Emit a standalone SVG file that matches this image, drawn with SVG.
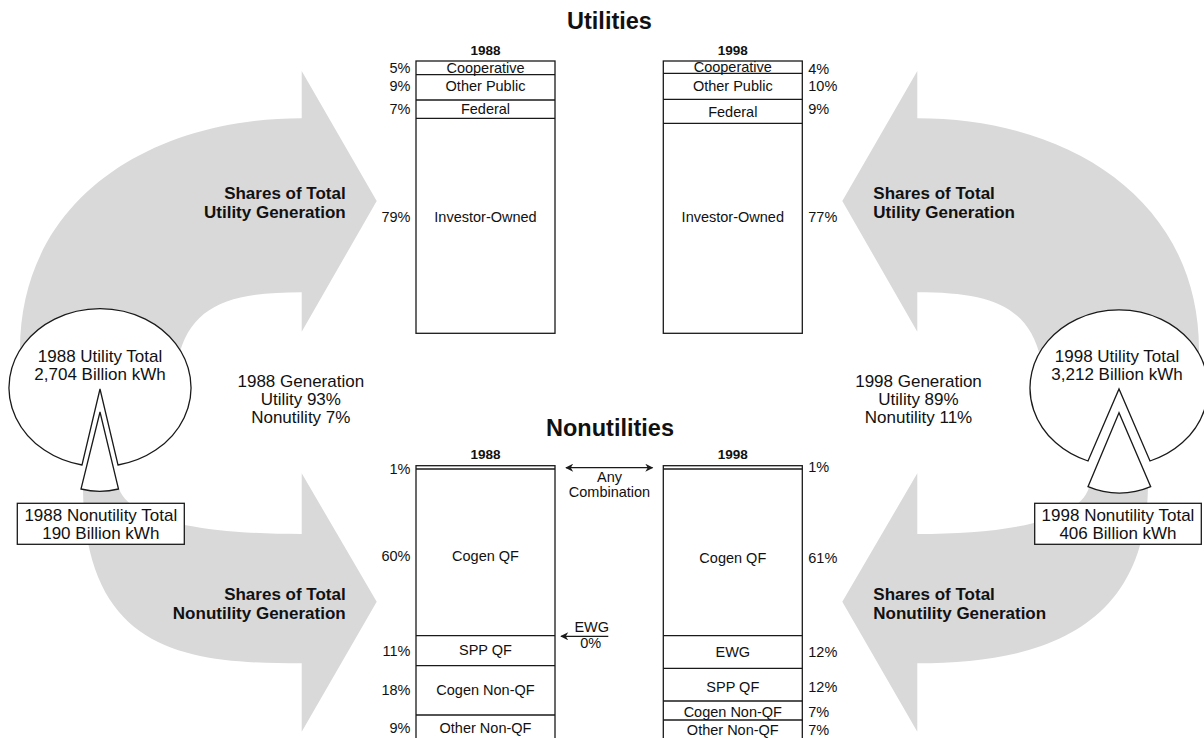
<svg xmlns="http://www.w3.org/2000/svg" width="1204" height="738" viewBox="0 0 1204 738">
<style>
text{font-family:"Liberation Sans",Arial,Helvetica,sans-serif;fill:#111}
.t{font-size:23.5px;font-weight:bold;text-anchor:middle}
.yr{font-size:13.5px;font-weight:bold;text-anchor:middle}
.l{font-size:14.5px;text-anchor:middle}
.pl{font-size:14.5px;text-anchor:end}
.pr{font-size:14.5px;text-anchor:start}
.b{font-size:17px;text-anchor:middle}
.sl{font-size:17px;font-weight:bold;text-anchor:end}
.sr{font-size:17px;font-weight:bold;text-anchor:start}
.bar{fill:#fff;stroke:#1a1a1a;stroke-width:1.3}
.div{stroke:#1a1a1a;stroke-width:1.3}
.flow{fill:#d9d9d9}
.pie{fill:#fff;stroke:#1a1a1a;stroke-width:1.3}
.ar{stroke:#1a1a1a;stroke-width:1.3;fill:none}
</style>
<defs>
<marker id="ah" viewBox="0 0 10 10" refX="9" refY="5" markerWidth="10" markerHeight="8" markerUnits="userSpaceOnUse" orient="auto-start-reverse">
<path d="M0,0 L10,5 L0,10 L3,5 Z" fill="#1a1a1a"/>
</marker>
</defs>
<rect width="1204" height="738" fill="#fff"/>

<g id="connectors">
<path class="flow" d="M20,390 L20,350 C20,200 150,118.3 301.7,118.3 L301.7,71 L376.7,201 L301.7,331.7 L301.7,292.3 C230,292.3 190,305 178,360 L178,390 Z"/>
<path class="flow" d="M83,485 L118,485 C125,520 200,534 301.7,534 L301.7,473.3 L376.7,601.7 L301.7,731.7 L301.7,663.3 C190,663.3 83,655 83,485 Z"/>
<path class="flow" d="M1199,390 L1199,350 C1199,200 1069,118.3 917.3,118.3 L917.3,71 L842.3,201 L917.3,331.7 L917.3,292.3 C989,292.3 1029,305 1041,360 L1041,390 Z"/>
<path class="flow" d="M1090,483 L1148,483 C1148,630 1040,663.3 917.3,663.3 L917.3,731.7 L842.3,601.7 L917.3,473.3 L917.3,534 C1010,534 1085,520 1090,483 Z"/>
<line class="ar" x1="566" y1="467.7" x2="652.5" y2="467.7" marker-start="url(#ah)" marker-end="url(#ah)"/>
<line class="ar" x1="608.3" y1="636.3" x2="561" y2="636.3" marker-end="url(#ah)"/>
</g>

<g id="pie-1988">
<path class="pie" d="M82,465 A91,79 0 1 1 118,465 L100,389 Z"/>
<path class="pie" d="M100,412 L81,489 A79,79 0 0 0 118.5,489 Z"/>
<text class="b" x="100" y="362">1988 Utility Total</text>
<text class="b" x="100" y="380">2,704 Billion kWh</text>
</g>
<g id="box-1988">
<rect x="17.3" y="503.3" width="167" height="41" fill="#fff" stroke="#1a1a1a" stroke-width="1.3"/>
<text class="b" x="100.8" y="521">1988 Nonutility Total</text>
<text class="b" x="100.8" y="539.3">190 Billion kWh</text>
</g>

<g id="pie-1998">
<path class="pie" d="M1088,461 A89,78 0 1 1 1150,461 L1119,389 Z"/>
<path class="pie" d="M1119,412.7 L1088,486.7 A80,80 0 0 0 1150.7,486.7 Z"/>
<text class="b" x="1117" y="362">1998 Utility Total</text>
<text class="b" x="1117" y="380">3,212 Billion kWh</text>
</g>
<g id="box-1998">
<rect x="1034.7" y="503.3" width="166.6" height="41" fill="#fff" stroke="#1a1a1a" stroke-width="1.3"/>
<text class="b" x="1118" y="521">1998 Nonutility Total</text>
<text class="b" x="1118" y="539.3">406 Billion kWh</text>
</g>

<g id="labels-shares">
<text class="sl" x="345.7" y="199.3">Shares of Total</text>
<text class="sl" x="345.7" y="218">Utility Generation</text>
<text class="sl" x="345.7" y="600">Shares of Total</text>
<text class="sl" x="345.7" y="619">Nonutility Generation</text>
<text class="sr" x="873.3" y="199.3">Shares of Total</text>
<text class="sr" x="873.3" y="218">Utility Generation</text>
<text class="sr" x="873.3" y="600">Shares of Total</text>
<text class="sr" x="873.3" y="619">Nonutility Generation</text>
</g>

<g id="gen-1988">
<text class="b" x="300.8" y="386.7">1988 Generation</text>
<text class="b" x="300.8" y="405">Utility 93%</text>
<text class="b" x="300.8" y="423.3">Nonutility 7%</text>
</g>
<g id="gen-1998">
<text class="b" x="918.5" y="386.7">1998 Generation</text>
<text class="b" x="918.5" y="405">Utility 89%</text>
<text class="b" x="918.5" y="423.3">Nonutility 11%</text>
</g>

<g id="titles">
<text class="t" x="609.5" y="29.3">Utilities</text>
<text class="t" x="610" y="436">Nonutilities</text>
</g>

<g id="util-1988">
<text class="yr" x="485.5" y="55">1988</text>
<rect class="bar" x="416" y="61" width="139" height="272.3"/>
<line class="div" x1="416" y1="74.7" x2="555" y2="74.7"/>
<line class="div" x1="416" y1="100" x2="555" y2="100"/>
<line class="div" x1="416" y1="118.3" x2="555" y2="118.3"/>
<text class="l" x="485.5" y="72.5">Cooperative</text>
<text class="l" x="485.5" y="90.5">Other Public</text>
<text class="l" x="485.5" y="114">Federal</text>
<text class="l" x="485.5" y="221.5">Investor-Owned</text>
<text class="pl" x="410.5" y="73">5%</text>
<text class="pl" x="410.5" y="90.5">9%</text>
<text class="pl" x="410.5" y="114">7%</text>
<text class="pl" x="410.5" y="221.5">79%</text>
</g>

<g id="util-1998">
<text class="yr" x="732.8" y="55">1998</text>
<rect class="bar" x="663.3" y="61" width="139" height="272.3"/>
<line class="div" x1="663.3" y1="73.3" x2="802.3" y2="73.3"/>
<line class="div" x1="663.3" y1="99.3" x2="802.3" y2="99.3"/>
<line class="div" x1="663.3" y1="123.3" x2="802.3" y2="123.3"/>
<text class="l" x="732.8" y="71.5">Cooperative</text>
<text class="l" x="732.8" y="90.5">Other Public</text>
<text class="l" x="732.8" y="116.5">Federal</text>
<text class="l" x="732.8" y="221.5">Investor-Owned</text>
<text class="pr" x="808.3" y="73.5">4%</text>
<text class="pr" x="808.3" y="90.7">10%</text>
<text class="pr" x="808.3" y="114">9%</text>
<text class="pr" x="808.3" y="221.5">77%</text>
</g>

<g id="nonutil-1988">
<text class="yr" x="485.5" y="459">1988</text>
<rect class="bar" x="416" y="465.7" width="139" height="285"/>
<line class="div" x1="416" y1="469" x2="555" y2="469"/>
<line class="div" x1="416" y1="635.7" x2="555" y2="635.7"/>
<line class="div" x1="416" y1="665.7" x2="555" y2="665.7"/>
<line class="div" x1="416" y1="715" x2="555" y2="715"/>
<text class="l" x="485.5" y="560.7">Cogen QF</text>
<text class="l" x="485.5" y="655">SPP QF</text>
<text class="l" x="485.5" y="695">Cogen Non-QF</text>
<text class="l" x="485.5" y="732.7">Other Non-QF</text>
<text class="pl" x="410.5" y="473.5">1%</text>
<text class="pl" x="410.5" y="560.5">60%</text>
<text class="pl" x="410.5" y="656">11%</text>
<text class="pl" x="410.5" y="695.3">18%</text>
<text class="pl" x="410.5" y="732.7">9%</text>
</g>

<g id="nonutil-1998">
<text class="yr" x="732.8" y="459">1998</text>
<rect class="bar" x="663.3" y="465.7" width="139" height="285"/>
<line class="div" x1="663.3" y1="469" x2="802.3" y2="469"/>
<line class="div" x1="663.3" y1="635.7" x2="802.3" y2="635.7"/>
<line class="div" x1="663.3" y1="668.3" x2="802.3" y2="668.3"/>
<line class="div" x1="663.3" y1="701" x2="802.3" y2="701"/>
<line class="div" x1="663.3" y1="720" x2="802.3" y2="720"/>
<text class="l" x="732.8" y="563.3">Cogen QF</text>
<text class="l" x="732.8" y="656.7">EWG</text>
<text class="l" x="732.8" y="691.7">SPP QF</text>
<text class="l" x="732.8" y="716.7">Cogen Non-QF</text>
<text class="l" x="732.8" y="735">Other Non-QF</text>
<text class="pr" x="808.3" y="471.7">1%</text>
<text class="pr" x="808.3" y="562.7">61%</text>
<text class="pr" x="808.3" y="656.7">12%</text>
<text class="pr" x="808.3" y="691.7">12%</text>
<text class="pr" x="808.3" y="716.7">7%</text>
<text class="pr" x="808.3" y="735">7%</text>
</g>

<g id="any-combination">
<text class="l" x="609.5" y="481.7">Any</text>
<text class="l" x="609.5" y="496.7">Combination</text>
</g>
<g id="ewg-0">
<text class="l" x="591.7" y="631.7">EWG</text>
<text class="l" x="590.7" y="648.3">0%</text>
</g>
</svg>
